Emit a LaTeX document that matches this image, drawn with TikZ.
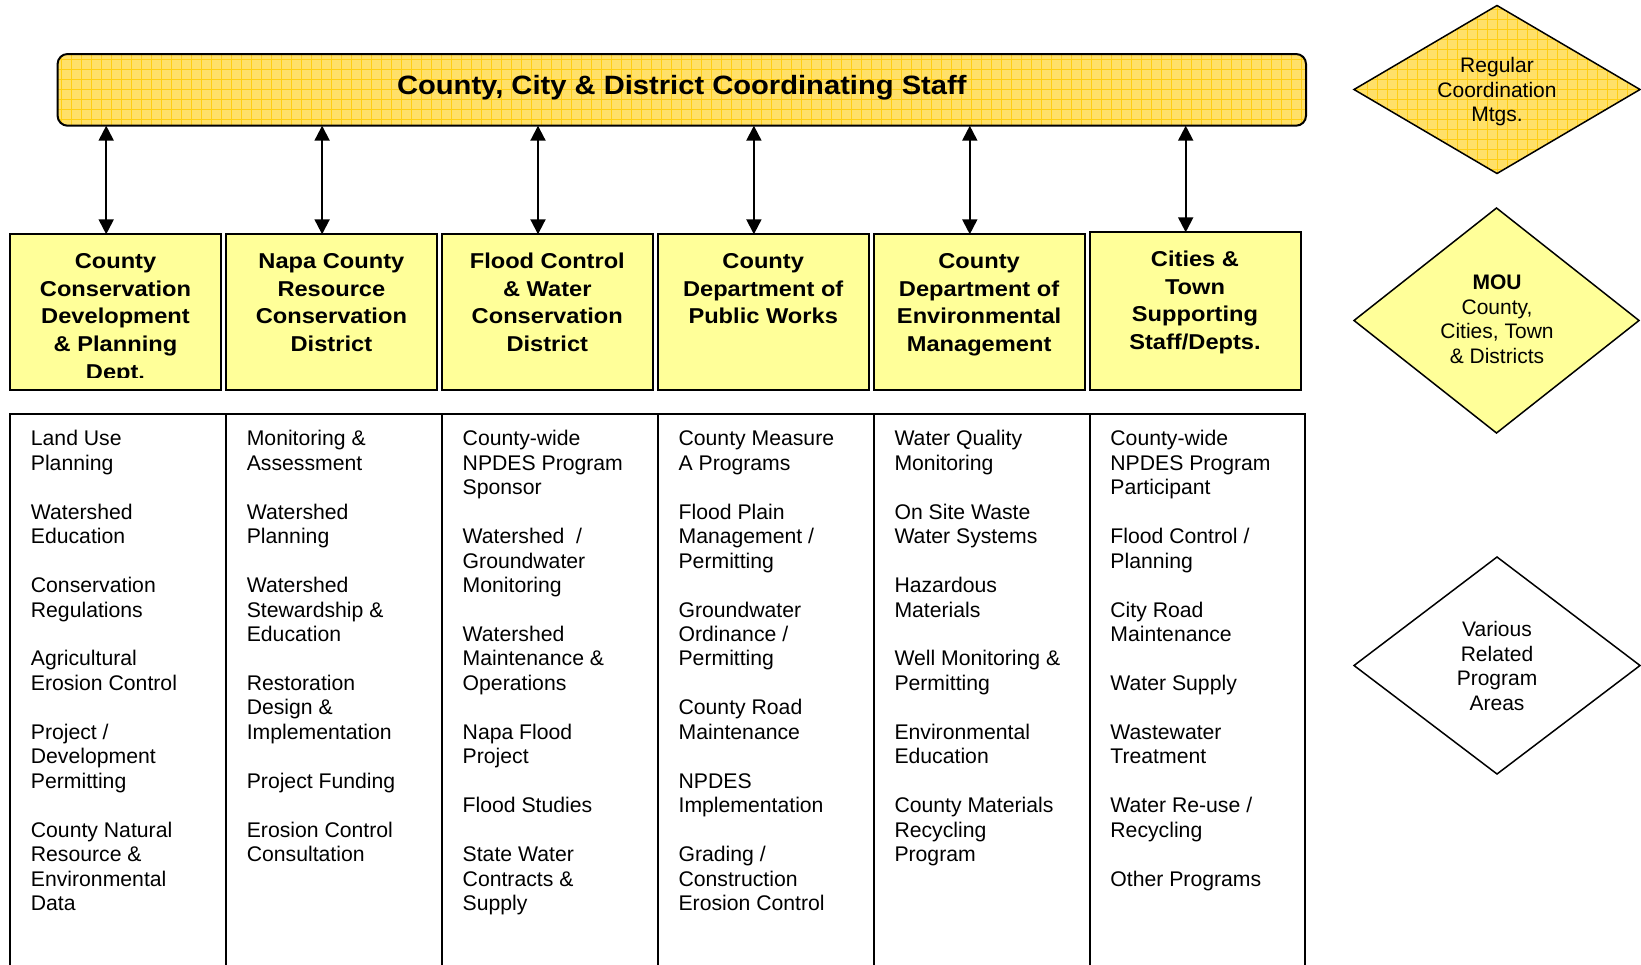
\documentclass[tikz,border=0pt]{standalone}
\usepackage{fontspec}
\setmainfont{Liberation Sans}
\newfontfamily\widefont{Liberation Sans}[FakeStretch=1.1]
\usetikzlibrary{arrows.meta,shapes.geometric}
\definecolor{gold}{RGB}{255,206,20}
\definecolor{goldfill}{RGB}{255,224,105}
\definecolor{paleyel}{RGB}{255,255,153}
\newcommand\hstrut{\rule{0pt}{18bp}}
\newcommand\bstrut{\rule{0pt}{16bp}}
\newcommand\gapline{\\[24.45bp]}
\begin{document}
\begin{tikzpicture}[x=1bp,y=-1bp,
  goldpat/.style={fill=goldfill, path picture={\draw[gold, line width=0.9bp] ([shift={(-20bp,-20bp)}]path picture bounding box.south west) grid[step=10bp] ([shift={(20bp,20bp)}]path picture bounding box.north east);}},
  bar/.style={draw, line width=2bp, rounded corners=10bp, goldpat, minimum width=1248.4bp, minimum height=71.7bp, inner sep=0, outer sep=0},
  hdr/.style={draw, line width=2bp, fill=paleyel, minimum width=211bp, minimum height=156bp, inner sep=0, outer sep=0, anchor=north west},
  cell/.style={draw, line width=2bp, minimum width=215.9bp, minimum height=570bp, inner sep=0, outer sep=0, anchor=north west},
  hdrtext/.style={anchor=north, align=center, inner sep=0, font=\widefont\bfseries\fontsize{21.5bp}{27.7bp}\selectfont},
  bodytext/.style={anchor=north west, align=left, inner sep=0, font=\fontsize{21.2bp}{24.45bp}\selectfont},
  dtext/.style={anchor=north, align=center, inner sep=0, font=\fontsize{21bp}{24.5bp}\selectfont},
  dia/.style={diamond, draw, line width=1.5bp, inner sep=0, outer sep=0},
  arr/.style={{Triangle[width=15bp,length=15bp]}-{Triangle[width=15bp,length=15bp]}, line width=2bp}
]
\useasboundingbox (0,0) rectangle (1641,964);
\fill[white] (0,0) rectangle (1641,964);

% top bar
\node[bar] (bar) at (681.8,89.85) {};
\node[anchor=base, inner sep=0, font=\widefont\bfseries\fontsize{26.5bp}{30bp}\selectfont] (title) at (681.8,94) {County, City \& District Coordinating Staff};

% header boxes
\node[hdr] (b1) at (10,234.3) {};
\node[hdr] (b2) at (225.9,234.3) {};
\node[hdr] (b3) at (441.8,234.3) {};
\node[hdr] (b4) at (657.7,234.3) {};
\node[hdr] (b5) at (873.6,234.3) {};
\node[hdr, minimum height=158bp] (b6) at (1089.5,232.3) {};

\begin{scope}
\clip (10,234) rectangle (221,377.5);
\node[hdrtext] (t1) at (115.5,250.3) {\hstrut County\\Conservation\\Development\\\& Planning\\Dept.};
\end{scope}
\node[hdrtext] (t2) at (331.4,250.3) {\hstrut Napa County\\Resource\\Conservation\\District};
\node[hdrtext] (t3) at (547.3,250.3) {\hstrut Flood Control\\\& Water\\Conservation\\District};
\node[hdrtext] (t4) at (763.2,250.3) {\hstrut County\\Department of\\Public Works};
\node[hdrtext] (t5) at (979.1,250.3) {\hstrut County\\Department of\\Environmental\\Management};
\node[hdrtext] (t6) at (1195,248.3) {\hstrut Cities \&\\Town\\Supporting\\Staff/Depts.};

% arrows
\coordinate (a1) at (106.2,0);
\coordinate (a2) at (322.1,0);
\coordinate (a3) at (538,0);
\coordinate (a4) at (753.9,0);
\coordinate (a5) at (969.8,0);
\coordinate (a6) at (1185.7,0);
\draw[arr] (bar.south -| a1) -- (b1.north -| a1);
\draw[arr] (bar.south -| a2) -- (b2.north -| a2);
\draw[arr] (bar.south -| a3) -- (b3.north -| a3);
\draw[arr] (bar.south -| a4) -- (b4.north -| a4);
\draw[arr] (bar.south -| a5) -- (b5.north -| a5);
\draw[arr] (bar.south -| a6) -- (b6.north -| a6);

% table cells
\node[cell] (c1) at (10,414) {};
\node[cell] (c2) at (225.9,414) {};
\node[cell] (c3) at (441.8,414) {};
\node[cell] (c4) at (657.7,414) {};
\node[cell] (c5) at (873.6,414) {};
\node[cell] (c6) at (1089.5,414) {};

\node[bodytext] (l1) at (30.7,429.7) {\bstrut Land Use\\Planning\gapline Watershed\\Education\gapline Conservation\\Regulations\gapline Agricultural\\Erosion Control\gapline Project /\\Development\\Permitting\gapline County Natural\\Resource \&\\Environmental\\Data};
\node[bodytext] (l2) at (246.6,429.7) {\bstrut Monitoring \&\\Assessment\gapline Watershed\\Planning\gapline Watershed\\Stewardship \&\\Education\gapline Restoration\\Design \&\\Implementation\gapline Project Funding\gapline Erosion Control\\Consultation};
\node[bodytext] (l3) at (462.5,429.7) {\bstrut County-wide\\NPDES Program\\Sponsor\gapline Watershed~~/\\Groundwater\\Monitoring\gapline Watershed\\Maintenance \&\\Operations\gapline Napa Flood\\Project\gapline Flood Studies\gapline State Water\\Contracts \&\\Supply};
\node[bodytext] (l4) at (678.4,429.7) {\bstrut County Measure\\A Programs\gapline Flood Plain\\Management /\\Permitting\gapline Groundwater\\Ordinance /\\Permitting\gapline County Road\\Maintenance\gapline NPDES\\Implementation\gapline Grading /\\Construction\\Erosion Control};
\node[bodytext] (l5) at (894.3,429.7) {\bstrut Water Quality\\Monitoring\gapline On Site Waste\\Water Systems\gapline Hazardous\\Materials\gapline Well Monitoring \&\\Permitting\gapline Environmental\\Education\gapline County Materials\\Recycling\\Program};
\node[bodytext] (l6) at (1110.2,429.7) {\bstrut County-wide\\NPDES Program\\Participant\gapline Flood Control /\\Planning\gapline City Road\\Maintenance\gapline Water Supply\gapline Wastewater\\Treatment\gapline Water Re-use /\\Recycling\gapline Other Programs};

% diamonds
\node[dia, goldpat, minimum width=286bp, minimum height=168bp] (d1) at (1497,89.5) {};
\node[dia, fill=paleyel, minimum width=285bp, minimum height=225bp] (d2) at (1496.5,320.5) {};
\node[dia, fill=white, minimum width=286bp, minimum height=217bp] (d3) at (1497,665.5) {};
\node[dtext] (d1t) at (1497,56.5) {\bstrut Regular\\Coordination\\Mtgs.};
\node[dtext] (d2t) at (1497,273.3) {\bstrut\textbf{MOU}\\County,\\Cities, Town\\\& Districts};
\node[dtext] (d3t) at (1497,620.7) {\bstrut Various\\Related\\Program\\Areas};
\end{tikzpicture}
\end{document}
